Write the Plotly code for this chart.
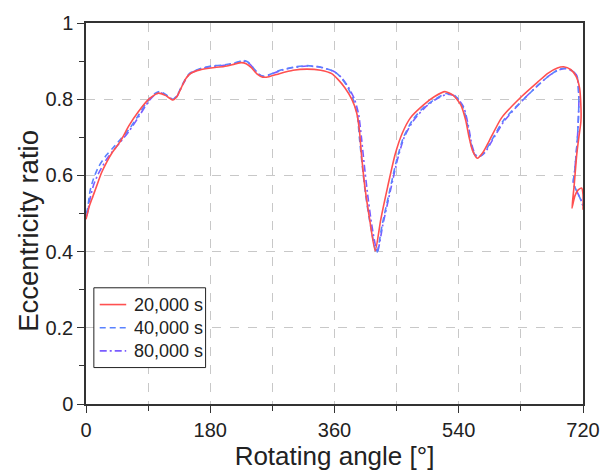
import plotly.graph_objects as go

# 20,000 s
ang_20k = [0, 5, 10, 16, 22, 30, 38, 50, 62, 75, 91, 100, 105, 115, 126, 131, 138, 145, 152, 165,
           181, 200, 215, 225, 232, 240, 248, 256, 265, 280, 300, 320, 340, 356, 365, 375, 385, 392,
           396, 399, 404, 411, 419, 427, 437, 448, 458, 470, 489, 505, 520, 532, 543, 550, 555, 560,
           567, 575, 584, 602, 631, 655, 669, 683, 692, 702, 710, 715, 717, 717, 714, 711, 707, 704,
           708, 713, 718, 720, 720]
ecc_20k = [0.485, 0.52, 0.545, 0.575, 0.605, 0.635, 0.66, 0.69, 0.73, 0.765, 0.80, 0.812, 0.816, 0.81,
           0.798, 0.805, 0.83, 0.855, 0.868, 0.877, 0.882, 0.886, 0.892, 0.896, 0.893, 0.882, 0.866,
           0.858, 0.859, 0.867, 0.876, 0.879, 0.876, 0.867, 0.852, 0.83, 0.80, 0.765, 0.72, 0.656,
           0.57, 0.484, 0.402, 0.484, 0.57, 0.656, 0.71, 0.751, 0.785, 0.807, 0.82, 0.81, 0.785, 0.745,
           0.70, 0.665, 0.645, 0.66, 0.69, 0.751, 0.807, 0.846, 0.868, 0.882, 0.885, 0.878, 0.86, 0.83,
           0.78, 0.742, 0.70, 0.656, 0.57, 0.514, 0.545, 0.562, 0.567, 0.55, 0.51]

# 40,000 s
ang_40k = [0, 2, 6, 11, 18, 29, 38, 50, 62, 75, 91, 100, 107, 116, 126, 132, 140, 150, 165, 181,
           200, 215, 228, 235, 242, 250, 257, 266, 280, 300, 320, 340, 358, 368, 378, 387, 393, 396,
           400, 405, 412, 421, 429, 440, 450, 460, 473, 490, 506, 522, 534, 546, 553, 558, 563, 569,
           577, 587, 605, 634, 657, 671, 685, 695, 704, 711, 714, 712, 708, 706, 712, 718, 720]
ecc_40k = [0.50, 0.51, 0.56, 0.592, 0.622, 0.652, 0.67, 0.695, 0.72, 0.755, 0.80, 0.815, 0.82, 0.812,
           0.80, 0.81, 0.84, 0.868, 0.88, 0.887, 0.89, 0.895, 0.902, 0.897, 0.883, 0.866, 0.86, 0.865,
           0.875, 0.884, 0.888, 0.884, 0.874, 0.86, 0.835, 0.80, 0.76, 0.70, 0.63, 0.55, 0.47, 0.395,
           0.47, 0.56, 0.64, 0.70, 0.745, 0.78, 0.80, 0.815, 0.81, 0.78, 0.73, 0.68, 0.655, 0.648,
           0.66, 0.69, 0.745, 0.80, 0.84, 0.862, 0.878, 0.882, 0.875, 0.863, 0.80, 0.70, 0.613, 0.579,
           0.555, 0.531, 0.52]

# 80,000 s
ang_80k = [0, 2, 6, 11, 18, 29, 38, 50, 62, 75, 91, 100, 107, 116, 126, 132, 140, 150, 165, 181,
           200, 215, 228, 235, 242, 250, 257, 266, 280, 300, 320, 340, 360, 370, 380, 389, 395, 399,
           403, 408, 414, 422, 430, 441, 451, 461, 474, 491, 507, 523, 535, 547, 554, 559, 564, 570,
           578, 588, 606, 634, 657, 671, 685, 695, 704, 711, 714, 712, 708, 706, 712, 718, 720]
ecc_80k = [0.49, 0.50, 0.54, 0.575, 0.605, 0.64, 0.662, 0.688, 0.715, 0.75, 0.795, 0.812, 0.818, 0.81,
           0.80, 0.808, 0.838, 0.866, 0.879, 0.886, 0.889, 0.894, 0.90, 0.896, 0.883, 0.866, 0.86,
           0.864, 0.874, 0.883, 0.887, 0.884, 0.872, 0.857, 0.832, 0.80, 0.76, 0.70, 0.63, 0.55, 0.47,
           0.398, 0.47, 0.56, 0.64, 0.70, 0.743, 0.778, 0.80, 0.813, 0.808, 0.78, 0.73, 0.68, 0.655,
           0.65, 0.66, 0.69, 0.743, 0.80, 0.84, 0.862, 0.877, 0.88, 0.874, 0.862, 0.80, 0.70, 0.613,
           0.579, 0.555, 0.531, 0.52]

names = ["20,000 s", "40,000 s", "80,000 s"]
colors = ["#ff5050", "#5a82ff", "#7a5cff"]
dashes = ["solid", "6px,4px", "7px,3px,2px,3px"]

FONT = "Liberation Sans, Arial, sans-serif"

fig = go.Figure()
series = [(ang_20k, ecc_20k), (ang_40k, ecc_40k), (ang_80k, ecc_80k)]
for i in [2, 1, 0]:
    a, e = series[i]
    fig.add_trace(go.Scatter(x=a, y=e, mode="lines", name=names[i], showlegend=False,
                             line=dict(color=colors[i], width=1.6, dash=dashes[i],
                                       shape="spline", smoothing=0.6)))

axis_common = dict(
    showline=True, linecolor="#333333", linewidth=1.5, mirror=True,
    ticks="outside", ticklen=7, tickwidth=1.2, tickcolor="#333333",
    tickfont=dict(family=FONT, size=20, color="#222222"),
    zeroline=False,
)

fig.update_xaxes(
    range=[0, 720], tickvals=[0, 180, 360, 540, 720],
    showgrid=True, gridcolor="#c8c8c8", griddash="dash", gridwidth=1,
    minor=dict(tickvals=[90, 270, 450, 630], ticks="outside", ticklen=5, tickcolor="#333333",
               showgrid=True, gridcolor="#c8c8c8", griddash="dash", gridwidth=1),
    title=dict(text="Rotating angle [°]", font=dict(family=FONT, size=26, color="#222222"), standoff=1),
    **axis_common,
)
fig.update_yaxes(
    range=[0, 1], tickvals=[0, 0.2, 0.4, 0.6, 0.8, 1], ticktext=["0", "0.2", "0.4", "0.6", "0.8", "1"],
    showgrid=True, gridcolor="#c8c8c8", griddash="dash", gridwidth=1,
    minor=dict(tickvals=[0.1, 0.3, 0.5, 0.7, 0.9], ticks="outside", ticklen=5, tickcolor="#333333", showgrid=False),
    **axis_common,
)

# manual legend (box, line samples, labels) in plot-area paper coordinates
leg_box = dict(x0=0.0158, x1=0.2406, y0=0.0956, y1=0.305)
leg_rows = [0.261, 0.2, 0.1395]
shapes = [dict(type="rect", xref="paper", yref="paper", **leg_box,
               line=dict(color="#222222", width=1), fillcolor="white", layer="above")]
annotations = [dict(xref="paper", yref="paper", x=-0.1164, y=0.455, text="Eccentricity ratio",
                    textangle=-90, showarrow=False, xanchor="center", yanchor="middle",
                    font=dict(family=FONT, size=27.5, color="#222222"))]
for i in range(3):
    shapes.append(dict(type="line", xref="paper", yref="paper", x0=0.0276, x1=0.0809,
                       y0=leg_rows[i], y1=leg_rows[i], layer="above",
                       line=dict(color=colors[i], width=1.6, dash=dashes[i])))
    annotations.append(dict(xref="paper", yref="paper", x=0.0927, y=leg_rows[i], text=names[i],
                            showarrow=False, xanchor="left", yanchor="middle",
                            font=dict(family=FONT, size=18, color="#222222")))

fig.update_layout(
    width=612, height=472,
    margin=dict(l=86, r=19, t=17, b=68),
    plot_bgcolor="white", paper_bgcolor="white",
    font=dict(family=FONT, color="#222222"),
    shapes=shapes, annotations=annotations,
    showlegend=False,
)

fig.write_html("out.html")
